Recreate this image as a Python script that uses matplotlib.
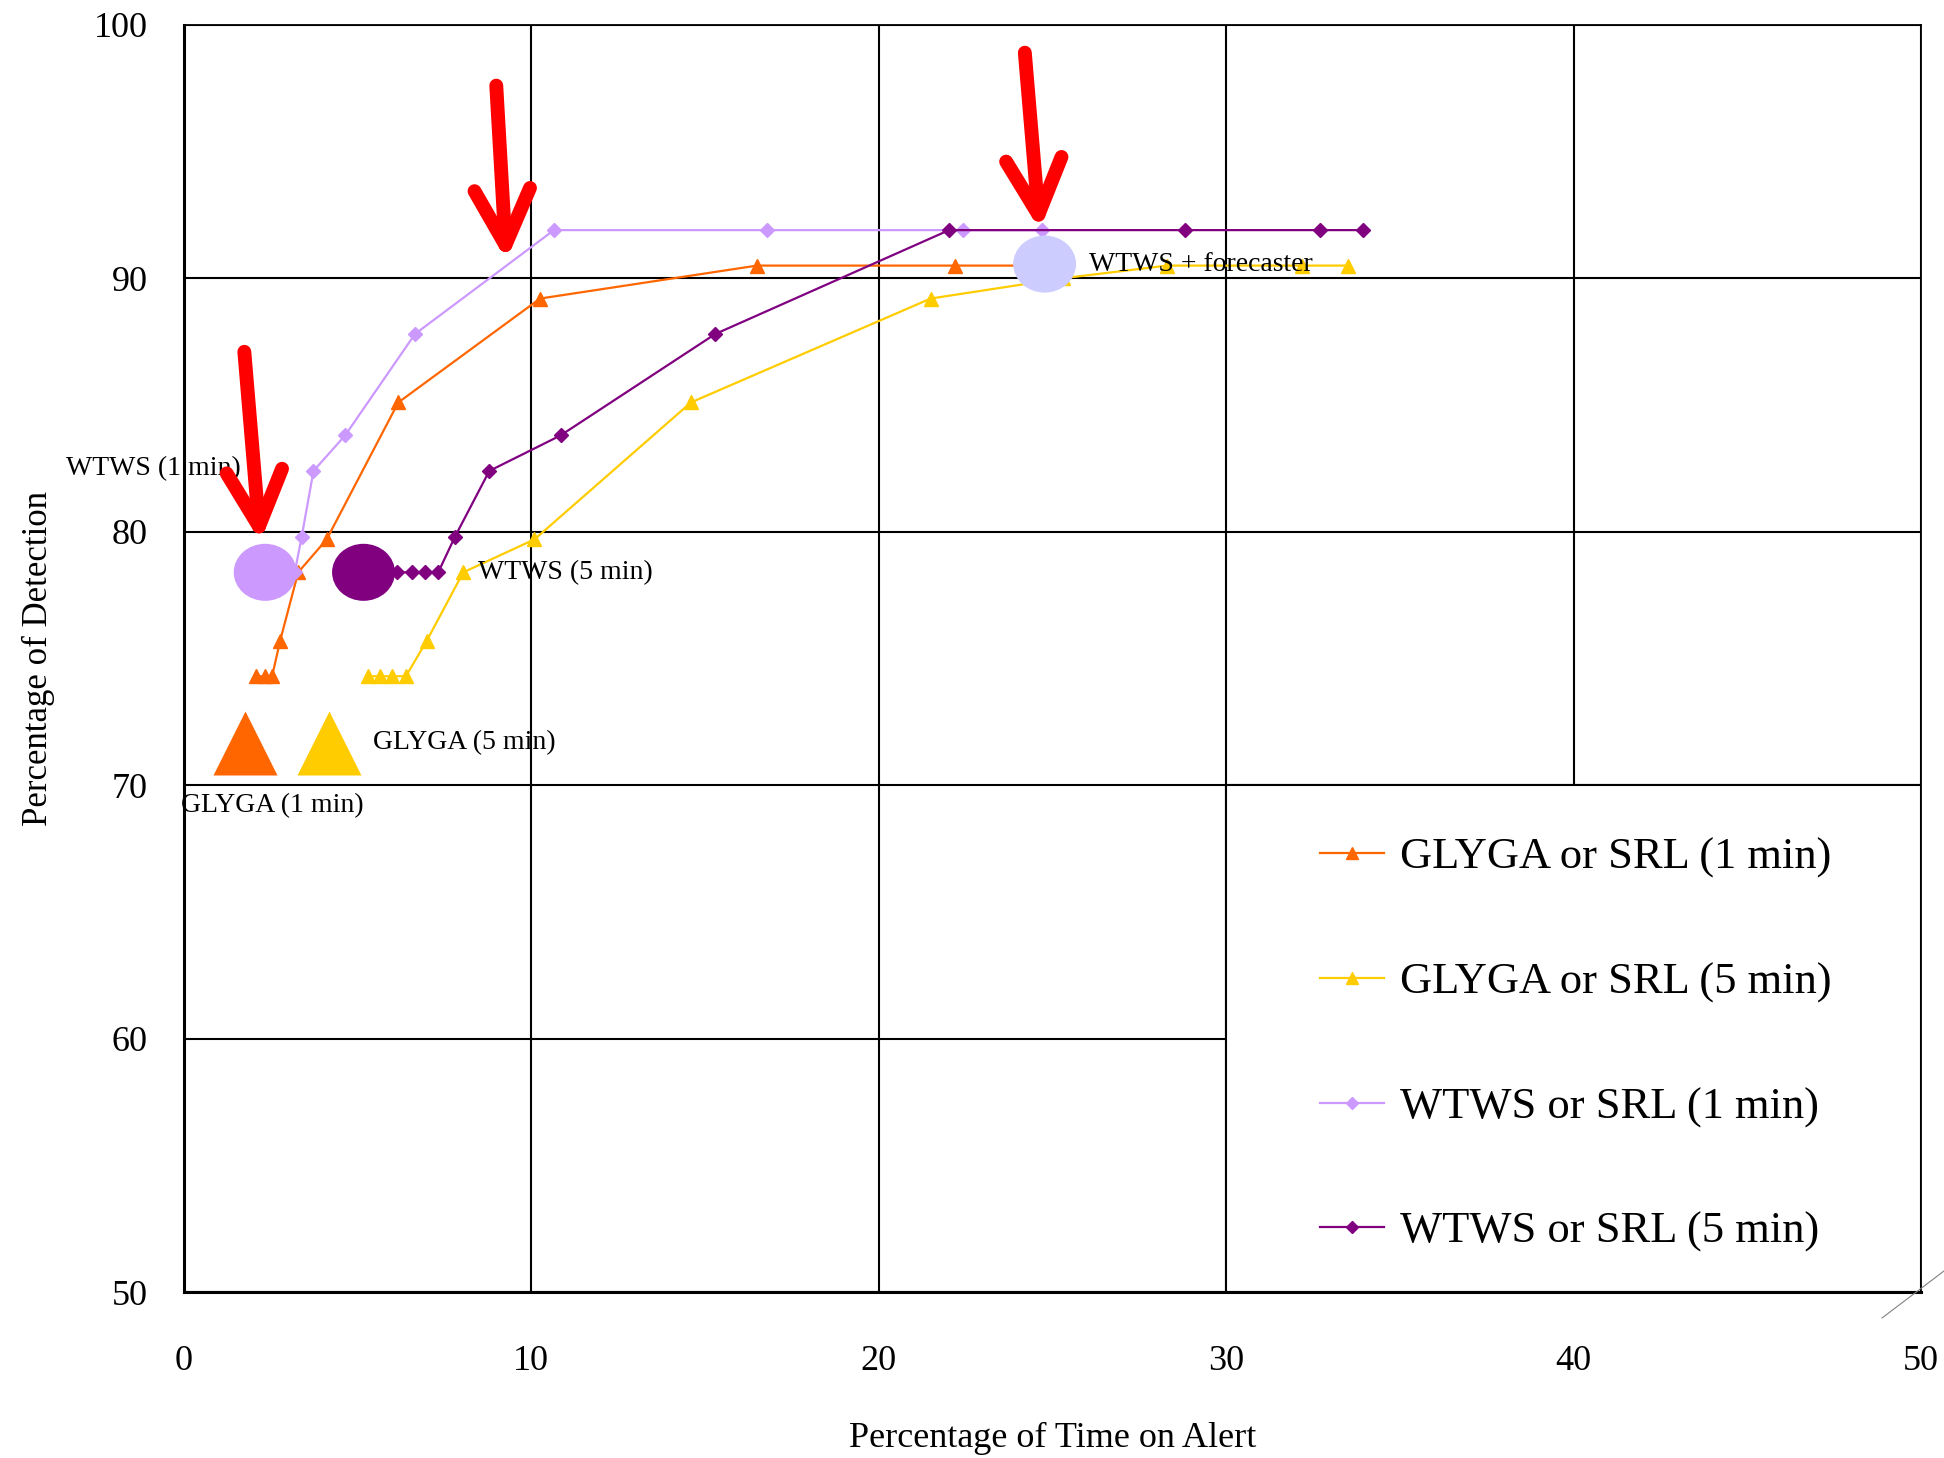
import matplotlib
matplotlib.use("Agg")
import matplotlib.pyplot as plt
from matplotlib.patches import Ellipse, Rectangle
from matplotlib.lines import Line2D

plt.rcParams['font.family'] = ['Liberation Serif', 'DejaVu Serif']

# curvas de deteccao x tempo em alerta
glyga1_x = [2.1, 2.35, 2.55, 2.78, 3.30, 4.12, 6.18, 10.26, 16.5, 22.2, 24.8]
glyga1_y = [74.3, 74.3, 74.3, 75.7, 78.4, 79.7, 85.1, 89.2, 90.5, 90.5, 90.5]

glyga5_x = [5.3, 5.65, 6.0, 6.4, 7.0, 8.05, 10.1, 14.6, 21.5, 25.3, 28.3, 32.2, 33.5]
glyga5_y = [74.3, 74.3, 74.3, 74.3, 75.7, 78.4, 79.7, 85.1, 89.2, 90.0, 90.5, 90.5, 90.5]

wtws1_x = [2.4, 3.2, 3.40, 3.74, 4.65, 6.66, 10.66, 16.8, 22.44, 24.71]
wtws1_y = [78.4, 78.4, 79.8, 82.4, 83.8, 87.8, 91.9, 91.9, 91.9, 91.9]

wtws5_x = [5.18, 6.13, 6.57, 6.95, 7.33, 7.81, 8.80, 10.85, 15.30, 22.03, 28.82, 32.7, 33.94]
wtws5_y = [78.4, 78.4, 78.4, 78.4, 78.4, 79.8, 82.4, 83.8, 87.8, 91.9, 91.9, 91.9, 91.9]

nomes = ["GLYGA or SRL (1 min)", "GLYGA or SRL (5 min)",
         "WTWS or SRL (1 min)", "WTWS or SRL (5 min)"]
cores = ["#FF6600", "#FFCC00", "#CC99FF", "#800080"]

# pontos de operacao destacados
ops_circ_x = [2.35, 5.18, 24.78]
ops_circ_y = [78.4, 78.4, 90.56]
ops_circ_cor = ["#CC99FF", "#800080", "#CCCCFF"]
ops_tri_x = [1.77, 4.19]
ops_tri_y = [71.67, 71.67]
ops_tri_cor = ["#FF6600", "#FFCC00"]

rotulos = ["WTWS (1 min)", "WTWS (5 min)", "GLYGA (5 min)", "GLYGA (1 min)", "WTWS + forecaster"]
rot_x = [-3.39, 8.46, 5.46, -0.07, 26.07]
rot_y = [82.5, 78.4, 71.7, 69.2, 90.56]

fig = plt.figure(figsize=(19.44, 14.58), dpi=100)
ax = fig.add_axes([0.0944, 0.1137, 0.8938, 0.8693])

ax.set_xlim(0, 50)
ax.set_ylim(50, 100)
ax.set_xticks([0, 10, 20, 30, 40, 50])
ax.set_yticks([50, 60, 70, 80, 90, 100])
ax.set_axisbelow(True)
ax.grid(True, color="black", lw=1.5)
ax.tick_params(length=0)
ax.tick_params(axis="y", labelsize=26, pad=26)
ax.tick_params(axis="x", labelsize=26, pad=38)
for s in ["left", "bottom"]:
    ax.spines[s].set_linewidth(2.2)
for s in ["top", "right"]:
    ax.spines[s].set_linewidth(1.3)

# caixa branca da legenda por cima da grade
ax.add_patch(Rectangle((30, 50), 20, 20, facecolor="white", edgecolor="black", lw=1.5, zorder=1))

series = [(glyga1_x, glyga1_y, "^"), (glyga5_x, glyga5_y, "^"),
          (wtws1_x, wtws1_y, "D"), (wtws5_x, wtws5_y, "D")]
linhas = []
for (xs, ys, mk), nome, cor in zip(series, nomes, cores):
    ms = 10 if mk == "^" else 7.5
    l, = ax.plot(xs, ys, color=cor, lw=1.6, marker=mk, ms=ms, mec=cor, mfc=cor, label=nome, zorder=3)
    linhas.append(l)

for x, y, c in zip(ops_circ_x, ops_circ_y, ops_circ_cor):
    ax.add_patch(Ellipse((x, y), 1.81, 2.25, facecolor=c, edgecolor="none", zorder=4))
ax.plot(ops_tri_x[:1], ops_tri_y[:1], "^", ms=46, color=ops_tri_cor[0], mec="none", zorder=4)
ax.plot(ops_tri_x[1:], ops_tri_y[1:], "^", ms=46, color=ops_tri_cor[1], mec="none", zorder=4)

for t, x, y in zip(rotulos, rot_x, rot_y):
    ax.text(x, y, t, fontsize=20, ha="left", va="center", zorder=5, clip_on=False)

# setas vermelhas
setas = [((2.21, 79.6), (1.75, 87.1)), ((9.29, 90.7), (9.0, 97.6)), ((24.64, 91.9), (24.21, 98.9))]
for ponta, base in setas:
    ax.annotate("", xy=ponta, xytext=base, zorder=6,
                arrowprops=dict(arrowstyle="->,head_length=1.0,head_width=0.5", color="red",
                                lw=10, mutation_scale=40, shrinkA=0, shrinkB=0))

leg = ax.legend(handles=linhas, loc="center left", bbox_to_anchor=(0.654, 0.195),
                frameon=False, fontsize=32, handlelength=1.45, handletextpad=0.35,
                labelspacing=1.89, borderpad=0, borderaxespad=0, markerscale=0.8)
leg.set_zorder(6)

ax.set_ylabel("Percentage of Detection", fontsize=25)
ax.yaxis.set_label_coords(-0.074, 0.5)
ax.set_xlabel("Percentage of Time on Alert", fontsize=26)
ax.xaxis.set_label_coords(0.5, -0.102)

fig.add_artist(Line2D([1882 / 1944, 1.0], [1 - 1318 / 1458, 1 - 1271 / 1458],
                      transform=fig.transFigure, color="gray", lw=0.8))

plt.savefig("out.png", dpi=100)
